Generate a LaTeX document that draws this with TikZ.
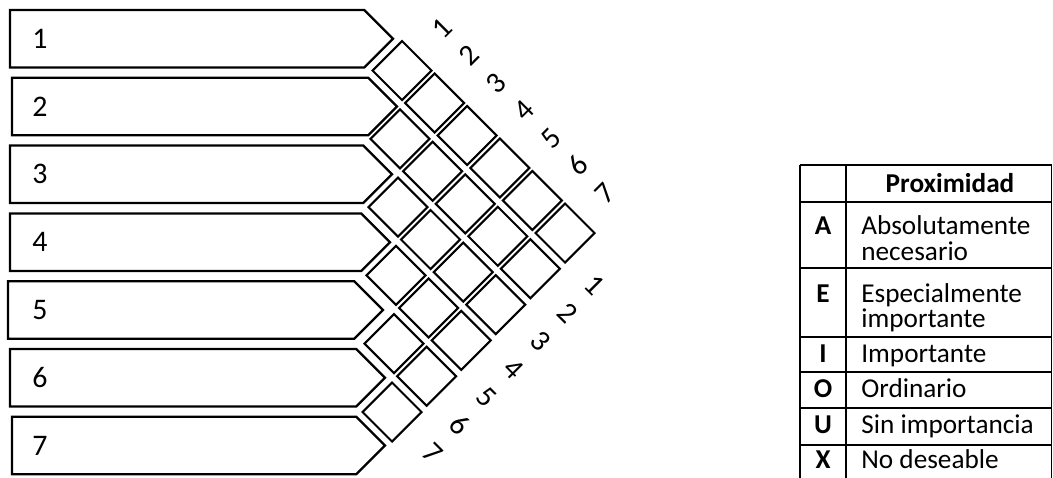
\documentclass[tikz,border=0pt]{standalone}
\usepackage{fontspec}
\setmainfont{Carlito}

\begin{document}
\begin{tikzpicture}[
    x=0.02cm, y=-0.02cm,
    every node/.style={font=\fontsize{15.5}{18}\selectfont, inner sep=0pt},
    deptbox/.style={draw=black, line width=1.3pt, fill=white, line join=miter},
    cell/.style={draw=black, line width=1.2pt, line join=miter},
    deptlabel/.style={font=\fontsize{17}{20}\selectfont},
    ranklabel/.style={font=\fontsize{17}{20}\selectfont},
    tabline/.style={draw=black, line width=0.6pt},
    keyletter/.style={font=\fontsize{15.5}{18}\selectfont\bfseries, anchor=base}
]
\useasboundingbox (0,0) rectangle (1053,477);

% Parameters
\def\rowstep{67.8}
\def\rowh{57.5}
\def\half{29.5}   % half-diagonal of a cell

% === Department boxes (pentagon arrows) ===
\foreach \k/\lx/\tx in {1/10/393, 2/12/397, 3/10/392, 4/10/390, 5/8/383, 6/10/385, 7/12/385} {
    \pgfmathsetmacro{\ty}{10+\rowstep*(\k-1)}
    \pgfmathsetmacro{\by}{\ty+\rowh}
    \pgfmathsetmacro{\my}{\ty+\rowh/2}
    \pgfmathsetmacro{\ex}{\tx-\rowh/2}
    \draw[deptbox] (\lx,\ty) -- (\ex,\ty) -- (\tx,\my) -- (\ex,\by) -- (\lx,\by) -- cycle;
    \node[deptlabel] (dept\k) at (40,\my) {\k};
}

% === Relationship cells (half matrix) ===
\foreach \i [evaluate=\i as \n using int(\i+1)] in {1,...,6} {
    \foreach \j in {\n,...,7} {
        \pgfmathsetmacro{\cx}{402+32.6*(\j-2)-34.6*(\i-1)}
        \pgfmathsetmacro{\cy}{70.5+32.5*(\j-2)+35.8*(\i-1)}
        \coordinate (c\i\j) at (\cx,\cy);
        \draw[cell] (c\i\j) ++(0,-\half) -- ++(\half,\half) -- ++(-\half,\half)
            -- ++(-\half,-\half) -- cycle;
    }
}

% === Rank numbers along both edges ===
\foreach \k in {1,...,7} {
    \node[ranklabel, rotate=45] (top\k) at ({442+27.2*(\k-1)},{28+27.5*(\k-1)}) {\k};
    \node[ranklabel, rotate=-45] (bot\k) at ({595-27*(\k-1)},{285+28*(\k-1)}) {\k};
}

% === Legend table ===
\def\tl{800}
\def\tm{846}
\def\tr{1051.5}
\foreach \yy in {165,202,268,337,372,408,445}
    \draw[tabline] (\tl,\yy) -- (\tr,\yy);
\foreach \xx in {\tl,\tm,\tr}
    \draw[tabline] (\xx,165) -- (\xx,480);

\node[font=\fontsize{15.5}{18}\selectfont\bfseries, anchor=base] (head) at (950,192) {Proximidad};
\foreach \name/\yy in {A/234, E/302, I/362, O/397, U/433, X/468}
    \node[keyletter] (key\name) at (823,\yy) {\name};

\node[anchor=base west] (txtA1) at (861,234) {Absolutamente};
\node[anchor=base west] (txtA2) at (861,260) {necesario};
\node[anchor=base west] (txtE1) at (861,302) {Especialmente};
\node[anchor=base west] (txtE2) at (861,327) {importante};
\node[anchor=base west] (txtI) at (861,362) {Importante};
\node[anchor=base west] (txtO) at (861,397) {Ordinario};
\node[anchor=base west] (txtU) at (861,433) {Sin importancia};
\node[anchor=base west] (txtX) at (861,468) {No deseable};

\end{tikzpicture}
\end{document}
